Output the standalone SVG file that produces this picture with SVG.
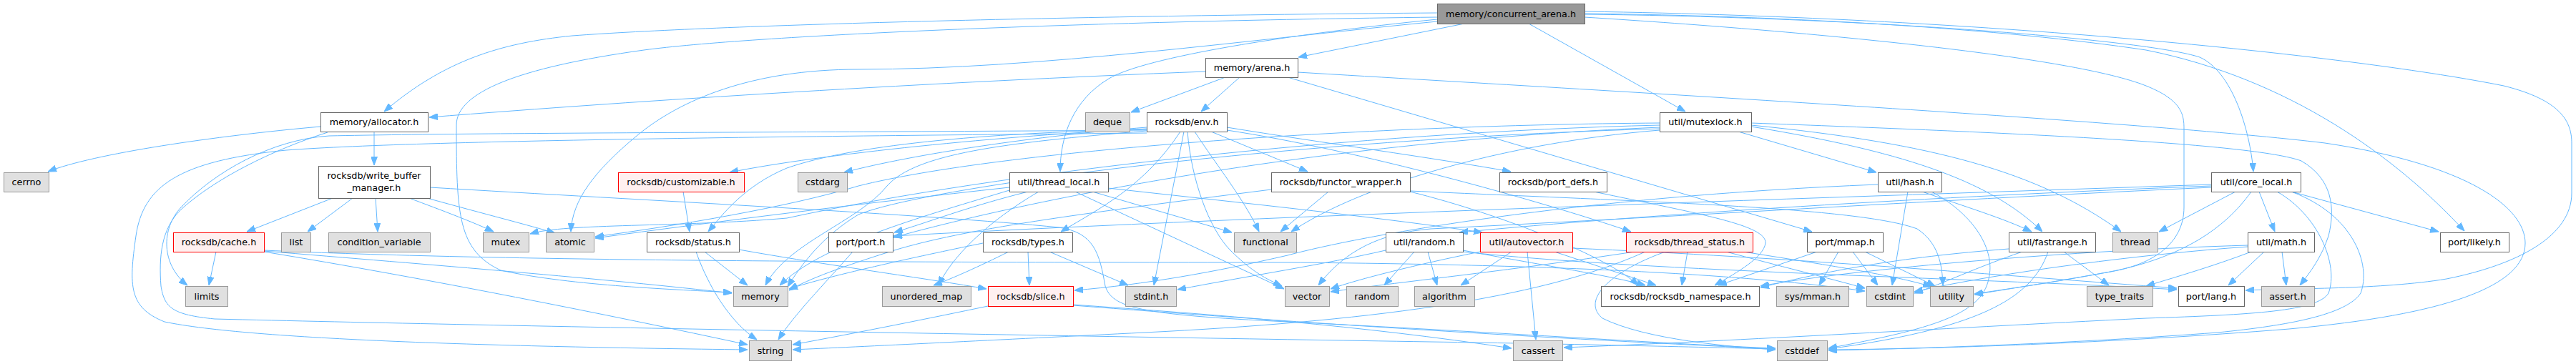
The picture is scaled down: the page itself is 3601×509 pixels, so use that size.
<svg xmlns="http://www.w3.org/2000/svg" width="3601" height="509" viewBox="0 0 3601 509">
<style>
.w{fill:#ffffff;stroke:#666666;stroke-width:1}
.g{fill:#e0e0e0;stroke:#999999;stroke-width:1}
.r{fill:#fff0f0;stroke:#ff0000;stroke-width:1}
.rt{fill:#999999;stroke:#666666;stroke-width:1}
text{font-family:"DejaVu Sans","Liberation Sans",sans-serif;font-size:12.8px;text-anchor:middle;fill:#000000}
#edges path{fill:none;stroke:#63b8ff;stroke-width:1;marker-end:url(#a)}
</style>
<defs>
<marker id="a" markerUnits="userSpaceOnUse" markerWidth="12" markerHeight="9" refX="12" refY="4.5" orient="auto">
<path d="M0,0 L12,4.5 L0,9 Z" fill="#63b8ff" stroke="#63b8ff" stroke-width="1"/>
</marker>
</defs>
<rect width="3601" height="509" fill="#ffffff"/>
<g id="edges">
<path d="M2009,18 C1500,22 1000,35 800,50 C700,60 620,85 537,156"/>
<path d="M2047,33 L1815,80"/>
<path d="M2137,33 L2356,156"/>
<path d="M2009,27 C1800,48 1600,80 1550,110 C1500,140 1482,190 1482,240"/>
<path d="M2009,30 C1750,55 1450,97 1200,97 C1050,97 950,140 890,190 C830,240 800,280 798,324"/>
<path d="M2009,24 C1500,30 1050,50 900,70 C720,95 638,130 638,175 C638,300 640,350 700,378 C800,400 950,405 1023,409"/>
<path d="M2215,24 C2550,45 2900,80 3000,120 C3050,140 3053,160 3053,180 L3053,290 C3053,340 3010,370 2950,380 C2870,395 2800,405 2760,411"/>
<path d="M2215,20 C2600,24 3000,55 3075,80 C3120,100 3145,180 3150,240"/>
<path d="M2215,19 C2500,22 2800,40 3000,70 C3200,110 3350,220 3445,323"/>
<path d="M2215,16 C2800,25 3300,80 3500,120 C3580,140 3595,170 3595,200 L3595,270 C3595,330 3520,370 3420,390 C3330,405 3200,403 3139,406"/>
<path d="M448,177 C300,190 130,215 67,240"/>
<path d="M523,184 L523,231"/>
<path d="M458,185 C380,210 300,250 253,293 C225,320 222,360 225,400 C230,430 240,440 300,446 C700,456 1500,470 2000,478 C2200,481 2400,486 2482,488"/>
<path d="M1685,100 C1300,115 900,140 600,164"/>
<path d="M1713,108 L1581,157"/>
<path d="M1733,108 L1679,156"/>
<path d="M1800,108 L2533,324"/>
<path d="M1814,101 C2300,130 3000,170 3250,200 C3450,230 3530,290 3530,340 C3530,400 3420,440 3200,460 C2950,480 2700,488 2556,489"/>
<path d="M1650,184 C1600,260 1540,290 1483,324"/>
<path d="M1655,184 L1613,399"/>
<path d="M1660,184 C1665,250 1690,320 1720,350 C1750,380 1770,390 1792,400"/>
<path d="M1670,184 C1700,230 1740,280 1760,324"/>
<path d="M1693,184 L1828,240"/>
<path d="M1715,178 C1850,200 2000,220 2112,240"/>
<path d="M1603,178 C1450,190 1280,215 1180,241"/>
<path d="M1603,180 C1400,190 1150,215 1020,241"/>
<path d="M1603,181 C1400,185 1200,200 1100,235 C1040,260 1010,300 990,324"/>
<path d="M1603,183 C1400,200 1280,215 1240,260 C1200,310 1100,340 1070,399"/>
<path d="M1603,182 C1200,185 700,185 460,190 C380,195 300,240 253,290 C225,320 225,370 262,399"/>
<path d="M1603,186 C1200,190 600,195 400,210 C250,225 200,260 190,330 C180,400 180,430 230,450 C350,475 700,485 1045,489"/>
<path d="M1715,182 C1900,210 2150,280 2280,324"/>
<path d="M465,277 L345,324"/>
<path d="M493,277 L430,324"/>
<path d="M525,277 L528,324"/>
<path d="M572,277 C620,295 660,310 690,324"/>
<path d="M597,277 C680,300 740,315 776,326"/>
<path d="M601,262 C900,280 1300,300 1480,318 C1530,325 1537,355 1545,400 C1555,430 1590,440 1800,450 C2100,465 2350,482 2482,487"/>
<path d="M302,352 L292,399"/>
<path d="M369,351 C600,370 850,390 1023,410"/>
<path d="M369,352 C600,390 850,440 1045,482"/>
<path d="M369,350 C700,365 1200,367 1800,367 C2200,370 2450,385 2607,407"/>
<path d="M955,268 L964,324"/>
<path d="M985,352 L1045,399"/>
<path d="M973,352 C990,400 1020,450 1058,475"/>
<path d="M1033,349 C1150,370 1300,390 1379,404"/>
<path d="M1192,352 C1150,400 1110,440 1088,475"/>
<path d="M1437,352 L1439,399"/>
<path d="M1467,352 L1577,399"/>
<path d="M1374,340 C1300,355 1160,385 1103,404"/>
<path d="M1410,352 C1370,372 1330,390 1305,399"/>
<path d="M1437,268 C1350,290 1300,310 1250,325"/>
<path d="M1452,268 C1380,310 1330,360 1312,399"/>
<path d="M1411,266 C1300,300 1150,340 1090,399"/>
<path d="M1411,262 C1200,285 1000,310 832,333"/>
<path d="M1527,268 L1722,325"/>
<path d="M1503,268 L1795,404"/>
<path d="M1549,263 C1700,280 1900,300 2072,325"/>
<path d="M1857,268 L1790,324"/>
<path d="M1777,265 C1500,300 1350,320 1250,350 C1180,372 1130,390 1103,406"/>
<path d="M1971,267 C2300,282 2600,290 2680,320 C2710,340 2715,370 2716,399"/>
<path d="M1971,268 C2100,300 2250,360 2290,399"/>
<path d="M2228,268 C2380,300 2470,315 2468,340 C2465,360 2430,380 2397,399"/>
<path d="M1977,352 L1935,399"/>
<path d="M1996,352 L2009,399"/>
<path d="M1937,350 C1850,370 1750,385 1646,405"/>
<path d="M2045,352 C2300,380 2800,390 3043,405"/>
<path d="M2045,350 C2150,370 2250,385 2300,399"/>
<path d="M2113,352 L2042,399"/>
<path d="M2135,352 L2147,475"/>
<path d="M2069,352 C1980,370 1900,390 1860,404"/>
<path d="M2198,347 C2500,360 2800,385 3043,403"/>
<path d="M2173,352 L2315,399"/>
<path d="M2359,352 L2351,399"/>
<path d="M2413,352 C2480,370 2560,390 2607,403"/>
<path d="M2437,352 C2550,370 2650,385 2700,401"/>
<path d="M2328,352 C2250,380 2210,420 2240,445 C2300,475 2420,485 2482,489"/>
<path d="M2300,352 C2150,420 1900,450 1600,465 C1400,475 1200,485 1108,489"/>
<path d="M2285,352 C2100,380 1950,395 1860,408"/>
<path d="M2570,352 L2543,399"/>
<path d="M2590,352 L2625,399"/>
<path d="M2607,352 L2705,400"/>
<path d="M2540,352 L2402,399"/>
<path d="M2667,268 L2645,399"/>
<path d="M2687,268 C2750,290 2800,305 2840,324"/>
<path d="M2700,268 C2760,300 2790,350 2780,390 C2770,440 2700,460 2556,487"/>
<path d="M2625,258 C2200,275 1900,330 1800,357 C1700,380 1600,398 1502,406"/>
<path d="M2863,352 C2840,420 2760,460 2556,488"/>
<path d="M2827,352 C2760,375 2720,395 2676,410"/>
<path d="M2885,352 L2948,399"/>
<path d="M2808,348 C2650,360 2550,380 2461,402"/>
<path d="M2448,172 C2800,185 3150,200 3217,225 C3260,250 3265,290 3255,330 C3245,360 3230,380 3215,399"/>
<path d="M2448,175 C2700,200 2850,240 2965,324"/>
<path d="M2448,177 C2650,210 2780,250 2855,324"/>
<path d="M2430,184 L2623,241"/>
<path d="M2320,172 C1900,175 1400,210 1200,260 C1100,290 950,315 832,331"/>
<path d="M2320,175 C1900,185 1400,240 1100,305 C950,318 790,312 741,327"/>
<path d="M2320,180 C1800,195 1300,260 1200,300 C1150,330 1120,370 1101,401"/>
<path d="M2320,182 C2100,200 1900,260 1805,324"/>
<path d="M2320,178 C1800,200 1400,290 1249,332"/>
<path d="M3125,268 L3018,324"/>
<path d="M3158,268 L3180,324"/>
<path d="M3203,268 L3409,324"/>
<path d="M3147,268 C3110,320 3050,360 2950,380 C2850,398 2800,405 2760,412"/>
<path d="M3091,258 C2600,275 1800,300 1249,330"/>
<path d="M3091,260 C2700,275 2300,300 2040,325"/>
<path d="M3091,262 C2700,280 2400,300 2000,320 C1930,326 1880,350 1843,399"/>
<path d="M3203,268 C3290,300 3315,370 3300,410 C3280,440 3200,455 3100,465 C2900,480 2700,487 2556,490"/>
<path d="M3183,268 C3240,300 3270,370 3255,410 C3240,435 3150,440 3000,445 C2700,460 2400,478 2186,486"/>
<path d="M3190,352 L3196,399"/>
<path d="M3165,352 L3115,399"/>
<path d="M3147,352 C3100,370 3050,385 3000,400"/>
<path d="M3142,345 C3000,355 2800,380 2676,408"/>
<path d="M3142,343 C2900,350 2600,375 2461,400"/>
<path d="M1381,428 C1300,445 1200,465 1108,482"/>
<path d="M1500,426 C1700,440 1900,455 2113,487"/>
<path d="M1500,427 C1800,450 2100,470 2482,488"/>
</g>
<g id="n0"><rect class="rt" x="2009.5" y="5.5" width="206" height="28"/><text x="2112" y="23.5">memory/concurrent_arena.h</text></g>
<g id="n1"><rect class="w" x="448.5" y="157.5" width="150" height="27"/><text x="523" y="175">memory/allocator.h</text></g>
<g id="n2"><rect class="w" x="1685.5" y="81.5" width="129" height="27"/><text x="1750" y="99">memory/arena.h</text></g>
<g id="n3"><rect class="w" x="1603.5" y="157.5" width="112" height="27"/><text x="1659" y="175">rocksdb/env.h</text></g>
<g id="n4"><rect class="g" x="1517.5" y="157.5" width="62" height="27"/><text x="1548" y="175">deque</text></g>
<g id="n5"><rect class="w" x="2320.5" y="157.5" width="128" height="27"/><text x="2384" y="175">util/mutexlock.h</text></g>
<g id="n6"><rect class="g" x="5.5" y="241.5" width="63" height="27"/><text x="37" y="259">cerrno</text></g>
<g id="n7"><rect class="w" x="445.5" y="232.5" width="156" height="45"/><text x="523" y="250">rocksdb/write_buffer</text><text x="523" y="267">_manager.h</text></g>
<g id="n8"><rect class="r" x="864.5" y="241.5" width="176" height="27"/><text x="952" y="259">rocksdb/customizable.h</text></g>
<g id="n9"><rect class="g" x="1115.5" y="241.5" width="69" height="27"/><text x="1150" y="259">cstdarg</text></g>
<g id="n10"><rect class="w" x="1411.5" y="241.5" width="138" height="27"/><text x="1480" y="259">util/thread_local.h</text></g>
<g id="n11"><rect class="w" x="1777.5" y="241.5" width="194" height="27"/><text x="1874" y="259">rocksdb/functor_wrapper.h</text></g>
<g id="n12"><rect class="w" x="2096.5" y="241.5" width="150" height="27"/><text x="2171" y="259">rocksdb/port_defs.h</text></g>
<g id="n13"><rect class="w" x="2625.5" y="241.5" width="89" height="27"/><text x="2670" y="259">util/hash.h</text></g>
<g id="n14"><rect class="w" x="3091.5" y="241.5" width="125" height="27"/><text x="3154" y="259">util/core_local.h</text></g>
<g id="n15"><rect class="r" x="242.5" y="325.5" width="127" height="27"/><text x="306" y="343">rocksdb/cache.h</text></g>
<g id="n16"><rect class="g" x="393.5" y="325.5" width="41" height="27"/><text x="414" y="343">list</text></g>
<g id="n17"><rect class="g" x="459.5" y="325.5" width="142" height="27"/><text x="530" y="343">condition_variable</text></g>
<g id="n18"><rect class="g" x="675.5" y="325.5" width="64" height="27"/><text x="707" y="343">mutex</text></g>
<g id="n19"><rect class="g" x="763.5" y="325.5" width="67" height="27"/><text x="797" y="343">atomic</text></g>
<g id="n20"><rect class="w" x="904.5" y="325.5" width="129" height="27"/><text x="969" y="343">rocksdb/status.h</text></g>
<g id="n21"><rect class="w" x="1158.5" y="325.5" width="90" height="27"/><text x="1203" y="343">port/port.h</text></g>
<g id="n22"><rect class="w" x="1374.5" y="325.5" width="125" height="27"/><text x="1437" y="343">rocksdb/types.h</text></g>
<g id="n23"><rect class="g" x="1725.5" y="325.5" width="87" height="27"/><text x="1769" y="343">functional</text></g>
<g id="n24"><rect class="w" x="1937.5" y="325.5" width="108" height="27"/><text x="1991" y="343">util/random.h</text></g>
<g id="n25"><rect class="r" x="2069.5" y="325.5" width="129" height="27"/><text x="2134" y="343">util/autovector.h</text></g>
<g id="n26"><rect class="r" x="2273.5" y="325.5" width="177" height="27"/><text x="2362" y="343">rocksdb/thread_status.h</text></g>
<g id="n27"><rect class="w" x="2526.5" y="325.5" width="106" height="27"/><text x="2579" y="343">port/mmap.h</text></g>
<g id="n28"><rect class="w" x="2808.5" y="325.5" width="121" height="27"/><text x="2869" y="343">util/fastrange.h</text></g>
<g id="n29"><rect class="g" x="2953.5" y="325.5" width="63" height="27"/><text x="2985" y="343">thread</text></g>
<g id="n30"><rect class="w" x="3142.5" y="325.5" width="93" height="27"/><text x="3189" y="343">util/math.h</text></g>
<g id="n31"><rect class="w" x="3411.5" y="325.5" width="96" height="27"/><text x="3459" y="343">port/likely.h</text></g>
<g id="n32"><rect class="g" x="259.5" y="400.5" width="59" height="28"/><text x="289" y="419">limits</text></g>
<g id="n33"><rect class="g" x="1025.5" y="400.5" width="76" height="28"/><text x="1063" y="419">memory</text></g>
<g id="n34"><rect class="g" x="1233.5" y="400.5" width="124" height="28"/><text x="1295" y="419">unordered_map</text></g>
<g id="n35"><rect class="r" x="1381.5" y="400.5" width="119" height="28"/><text x="1441" y="419">rocksdb/slice.h</text></g>
<g id="n36"><rect class="g" x="1573.5" y="400.5" width="71" height="28"/><text x="1609" y="419">stdint.h</text></g>
<g id="n37"><rect class="g" x="1796.5" y="400.5" width="62" height="28"/><text x="1827" y="419">vector</text></g>
<g id="n38"><rect class="g" x="1882.5" y="400.5" width="72" height="28"/><text x="1918" y="419">random</text></g>
<g id="n39"><rect class="g" x="1977.5" y="400.5" width="84" height="28"/><text x="2019" y="419">algorithm</text></g>
<g id="n40"><rect class="w" x="2238.5" y="400.5" width="221" height="28"/><text x="2349" y="419">rocksdb/rocksdb_namespace.h</text></g>
<g id="n41"><rect class="g" x="2483.5" y="400.5" width="101" height="28"/><text x="2534" y="419">sys/mman.h</text></g>
<g id="n42"><rect class="g" x="2609.5" y="400.5" width="65" height="28"/><text x="2642" y="419">cstdint</text></g>
<g id="n43"><rect class="g" x="2698.5" y="400.5" width="60" height="28"/><text x="2728" y="419">utility</text></g>
<g id="n44"><rect class="g" x="2917.5" y="400.5" width="92" height="28"/><text x="2963" y="419">type_traits</text></g>
<g id="n45"><rect class="w" x="3045.5" y="400.5" width="92" height="28"/><text x="3091" y="419">port/lang.h</text></g>
<g id="n46"><rect class="g" x="3161.5" y="400.5" width="74" height="28"/><text x="3198" y="419">assert.h</text></g>
<g id="n47"><rect class="g" x="1047.5" y="476.5" width="59" height="28"/><text x="1077" y="495">string</text></g>
<g id="n48"><rect class="g" x="2115.5" y="476.5" width="69" height="28"/><text x="2150" y="495">cassert</text></g>
<g id="n49"><rect class="g" x="2484.5" y="476.5" width="70" height="28"/><text x="2519" y="495">cstddef</text></g>
</svg>
